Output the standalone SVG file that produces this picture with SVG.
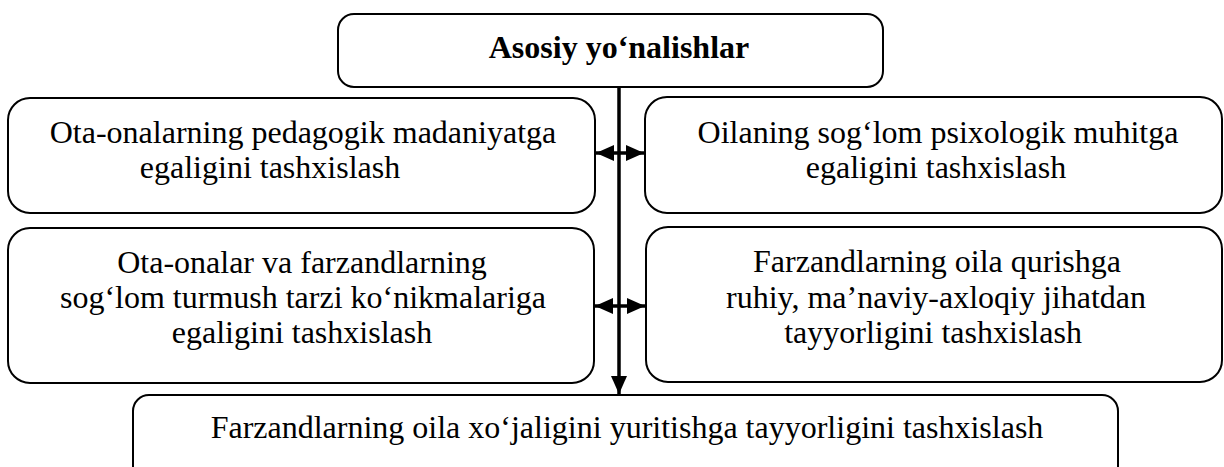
<svg xmlns="http://www.w3.org/2000/svg" width="1224" height="467" viewBox="0 0 1224 467">
<style>
.box{fill:#fff;stroke:#000;stroke-width:2}
.t{font-family:"Liberation Serif","Times New Roman",serif;font-size:32px;fill:#000;text-anchor:middle}
.b{font-weight:bold;font-size:32px}
.c{stroke:#000;stroke-width:3.5;fill:none}
</style>
<defs>
<marker id="ah" viewBox="0 0 18 16" refX="18" refY="8" markerWidth="18" markerHeight="16" orient="auto-start-reverse" markerUnits="userSpaceOnUse">
<path d="M0,0 L18,8 L0,16 z" fill="#000"/>
</marker>
</defs>
<g id="top">
<rect class="box" x="338" y="14" width="545" height="73" rx="16"/>
<text class="t b" x="619" y="58">Asosiy yo‘nalishlar</text>
</g>
<g id="left1">
<rect class="box" x="8" y="98" width="587" height="115" rx="22"/>
<text class="t" x="303" y="143">Ota-onalarning pedagogik madaniyatga</text>
<text class="t" x="270" y="178">egaligini tashxislash</text>
</g>
<g id="right1">
<rect class="box" x="645" y="97" width="577" height="116" rx="22"/>
<text class="t" x="938" y="143">Oilaning sog‘lom psixologik muhitga</text>
<text class="t" x="936" y="178">egaligini tashxislash</text>
</g>
<g id="left2">
<rect class="box" x="8" y="228" width="586" height="155" rx="22"/>
<text class="t" x="302" y="273">Ota-onalar va farzandlarning</text>
<text class="t" x="303" y="308">sog‘lom turmush tarzi ko‘nikmalariga</text>
<text class="t" x="302" y="343">egaligini tashxislash</text>
</g>
<g id="right2">
<rect class="box" x="646" y="227" width="576" height="155" rx="22"/>
<text class="t" x="937" y="272">Farzandlarning oila qurishga</text>
<text class="t" x="936" y="308">ruhiy, ma’naviy-axloqiy jihatdan</text>
<text class="t" x="933" y="343">tayyorligini tashxislash</text>
</g>
<g id="bottom">
<rect class="box" x="133" y="395" width="985" height="90" rx="16"/>
<text class="t" x="627" y="438">Farzandlarning oila xo‘jaligini yuritishga tayyorligini tashxislash</text>
</g>
<g id="connectors">
<line class="c" x1="619" y1="87" x2="619" y2="394" marker-end="url(#ah)"/>
<line class="c" x1="596" y1="153" x2="644" y2="153" marker-start="url(#ah)" marker-end="url(#ah)"/>
<line class="c" x1="595" y1="306" x2="645" y2="306" marker-start="url(#ah)" marker-end="url(#ah)"/>
</g>
</svg>
